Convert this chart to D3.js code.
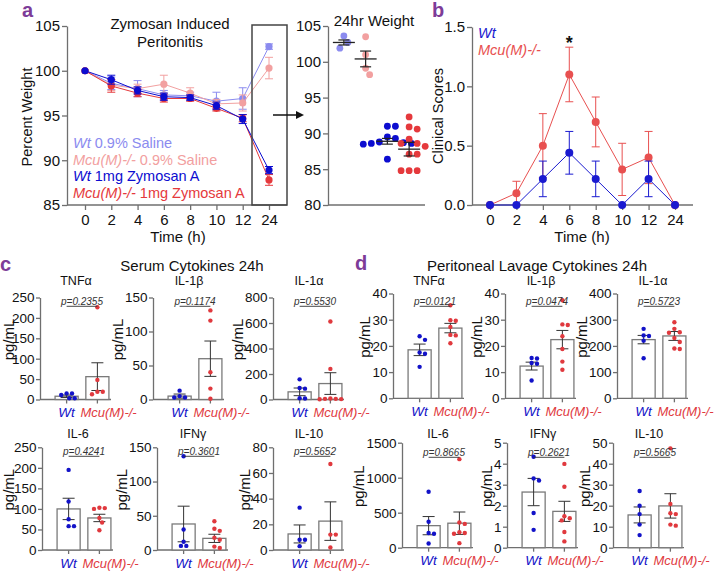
<!DOCTYPE html>
<html><head><meta charset="utf-8">
<script src="https://cdn.jsdelivr.net/npm/d3@7/dist/d3.min.js"></script>
<style>
body{margin:0;background:#fff;}
svg text{font-family:"Liberation Sans",Arial,Helvetica,sans-serif;}
</style></head><body>
<svg id="fig" width="720" height="572"></svg>
<script>
// ---------------- DATA ----------------
const timeLabels = ["0","2","4","6","8","10","12","24"];
// Panel a: percent weight over time (mean, SEM)
const wtSalineMean  = [100, 98.6, 98.0, 97.3, 97.2, 96.6, 96.9, 102.7];
const wtSalineSem   = [0, 0.7, 0.9, 0.5, 0.4, 1.0, 1.2, 0.3];
const mcuSalineMean = [100, 98.4, 98.0, 98.5, 97.5, 96.3, 96.4, 100.3];
const mcuSalineSem  = [0, 0.6, 0.5, 1.0, 0.6, 0.5, 0.9, 1.2];
const wtZymMean     = [100, 99.0, 97.8, 97.1, 97.0, 96.1, 94.6, 88.9];
const wtZymSem      = [0, 0.5, 0.4, 0.4, 0.3, 0.4, 0.5, 0.4];
const mcuZymMean    = [100, 98.3, 97.5, 96.9, 96.9, 95.8, 94.7, 87.8];
const mcuZymSem     = [0, 0.7, 0.4, 0.4, 0.3, 0.3, 0.4, 0.6];
const legendA = ["Wt| 0.9% Saline", "Mcu(M)-/-| 0.9% Saline", "Wt| 1mg Zymosan A", "Mcu(M)-/-| 1mg Zymosan A"];

// Panel a inset: 24hr weight
const weightGroups = ["Wt saline", "Mcu saline", "Wt zymosan", "Mcu zymosan"];
const wtSaline24  = [101.9, 103.6, 102.7];
const mcuSaline24 = [103.5, 101.0, 99.1, 98.2];
const wtZym24     = [91.0, 91.0, 89.5, 89.3, 88.7, 88.6, 88.6, 88.5, 88.8, 86.4];
const mcuZym24    = [92.3, 90.9, 90.6, 89.2, 88.6, 88.2, 88.6, 87.1, 87.1, 84.8, 84.8, 84.8];
const weight24Mean = [102.7, 100.4, 88.9, 87.8];
const weight24Sem  = [0.35, 1.1, 0.4, 0.95];

// Panel b: clinical scores
const wtScoreMean  = [0, 0, 0.22, 0.44, 0.22, 0, 0.22, 0];
const wtScoreSem   = [0, 0, 0.15, 0.18, 0.15, 0, 0.15, 0];
const mcuScoreMean = [0, 0.1, 0.5, 1.1, 0.7, 0.3, 0.4, 0];
const mcuScoreSem  = [0, 0.1, 0.27, 0.23, 0.21, 0.22, 0.22, 0];

// Panels c & d: cytokines
const cytokines = ["TNFα", "IL-1β", "IL-1α", "IL-6", "IFNγ", "IL-10"];
const groupLabels = ["Wt", "Mcu(M)-/-"];
const serumWt  = [[3,11,15,15,3],[13,3,3,5],[158,90,85,10,8],[195,118,75,58,58],[137,30,12,6,6],[33,8,8,3]];
const serumMcu = [[226,48,19,19,13],[131,116,40,16,1],[612,240,8,5,5,3,2],[103,102,100,78,67,48],[42,31,28,18,15,5,3],[67,12,12,2]];
const serumWtMean  = [8, 5, 60, 100, 38, 12.5];
const serumWtSem   = [3, 3, 30, 26, 26, 7];
const serumMcuMean = [56, 60, 125, 78, 17, 22.5];
const serumMcuSem  = [34, 26, 85, 9, 6, 15];
const serumP   = ["0.2355","0.1174","0.5530","0.4241","0.3601","0.5652"];
const serumMax  = [250, 150, 800, 250, 150, 80];
const serumStep = [50, 50, 200, 50, 50, 20];

const lavageWt  = [[23.7,22.3,17.5,17.0,12.0],[15.4,15.2,13.5,13.2,6.8],[265,240,238,220,153],[800,370,210,200,60],[4.33,3.3,3.2,1.65,0.85],[27,20,16,11,6]];
const lavageMcu = [[35.5,29.8,29.6,27.2,24.2,24.0,21.0],[37.4,28.2,28.0,23.7,18.8,14.0,10.9],[290,265,252,250,230,215,190,188],[1265,360,340,220,210,200,65],[3.99,2.9,1.5,1.4,1.3,0.75,0.3],[47.3,20.8,16.4,16.0,11.0,10.5]];
const lavageWtMean  = [18.5, 12.3, 224, 315, 2.65, 15.6];
const lavageWtSem   = [2.2, 1.5, 16, 130, 0.65, 3.8];
const lavageMcuMean = [26.8, 22.4, 238, 350, 1.73, 19.9];
const lavageMcuSem  = [1.8, 3.5, 17, 160, 0.48, 5.8];
const lavageP   = ["0.0121","0.0474","0.5723","0.8665","0.2621","0.5665"];
const lavageMax  = [40, 40, 400, 1500, 5, 50];
const lavageStep = [10, 10, 100, 500, 1, 10];

// ---------------- STYLE ----------------
const FONT = '"Liberation Sans", Arial, Helvetica, sans-serif';
const AX = "#6f6f6f";
const PURPLE = "#7d3c98";
const COL = {wtSal:"#8b8bef", mcuSal:"#f2a0a0", wtZym:"#0c0cd0", mcuZym:"#e5393c"};
const BLUE = "#1212c8", RED = "#e0393e";

const svg = d3.select("#fig");

function styleAxis(g, fs) {
  g.attr("font-family", FONT).attr("font-size", fs);
  g.selectAll("path.domain").attr("stroke", AX).attr("stroke-width", 1.3);
  g.selectAll(".tick line").attr("stroke", AX).attr("stroke-width", 1.3);
  g.selectAll(".tick text").attr("fill", "#111");
}
function hline(g, x1, x2, y, color, w) {
  g.append("line").attr("x1", x1).attr("x2", x2).attr("y1", y).attr("y2", y)
    .attr("stroke", color).attr("stroke-width", w || 1.3);
}
function errBar(g, x, yTop, yBot, hw, color, w) {
  g.append("line").attr("x1", x).attr("x2", x).attr("y1", yTop).attr("y2", yBot).attr("stroke", color).attr("stroke-width", w || 1);
  hline(g, x - hw, x + hw, yTop, color, w || 1);
  hline(g, x - hw, x + hw, yBot, color, w || 1);
}
function swarm(values, yScale, cx, r) {
  const d = 2 * r + 0.5;
  const pts = values.map(v => ({v, y: yScale(v), x: cx}));
  const order = pts.slice().sort((a, b) => a.y - b.y);
  const placed = [];
  for (const p of order) {
    for (let k = 0; k < 60; k++) {
      const off = k === 0 ? 0 : (k % 2 ? 1 : -1) * Math.ceil(k / 2) * d * 0.55;
      const x = cx + off;
      if (placed.every(q => Math.hypot(q.x - x, q.y - p.y) >= d)) { p.x = x; break; }
    }
    placed.push(p);
  }
  return pts;
}
function panelLabel(t, x, y) {
  svg.append("text").attr("x", x).attr("y", y).text(t)
    .attr("font-size", 20).attr("font-weight", "bold").attr("fill", PURPLE);
}
function txt(g, t, x, y, fs, anchor, opts) {
  const e = g.append("text").attr("x", x).attr("y", y).text(t).attr("font-size", fs)
    .attr("text-anchor", anchor || "middle").attr("fill", (opts && opts.fill) || "#111");
  if (opts && opts.italic) e.attr("font-style", "italic");
  return e;
}
function vtxt(g, t, x, y, fs) {
  return g.append("text").attr("transform", `translate(${x},${y}) rotate(-90)`)
    .attr("text-anchor", "middle").attr("font-size", fs).attr("fill", "#111").text(t);
}

// ---------------- PANEL A ----------------
panelLabel("a", 22, 17);
const gA = svg.append("g");
const xA = d3.scalePoint().domain(timeLabels).range([85, 269]);
const yA = d3.scaleLinear().domain([85, 105]).range([205, 26]);
const yAxA = gA.append("g").attr("transform", "translate(67,0)")
  .call(d3.axisLeft(yA).tickValues(d3.range(85, 106, 5)).tickSize(5).tickSizeOuter(0).tickPadding(2));
styleAxis(yAxA, 15);
const xAxA = gA.append("g").attr("transform", `translate(0,${yA(85)})`)
  .call(d3.axisBottom(xA).tickSize(5).tickPadding(4));
xAxA.select(".domain").remove();
styleAxis(xAxA, 15);
hline(gA, 67, 287, yA(85), AX, 1.3);

const seriesA = [
  {m: wtSalineMean, s: wtSalineSem, c: COL.wtSal},
  {m: mcuSalineMean, s: mcuSalineSem, c: COL.mcuSal},
  {m: mcuZymMean, s: mcuZymSem, c: COL.mcuZym},
  {m: wtZymMean, s: wtZymSem, c: COL.wtZym}
];
const lineA = d3.line().x((d, i) => xA(timeLabels[i])).y(d => yA(d));
seriesA.forEach(sr => {
  gA.append("path").datum(sr.m).attr("d", lineA).attr("fill", "none").attr("stroke", sr.c).attr("stroke-width", 1);
  sr.m.forEach((v, i) => { if (sr.s[i] > 0) errBar(gA, xA(timeLabels[i]), yA(v + sr.s[i]), yA(v - sr.s[i]), 4, sr.c, 1); });
  gA.selectAll(null).data(sr.m).enter().append("circle")
    .attr("cx", (d, i) => xA(timeLabels[i])).attr("cy", d => yA(d)).attr("r", 3.6).attr("fill", sr.c);
});
txt(gA, "Zymosan Induced", 170, 29, 15);
txt(gA, "Peritonitis", 170, 47, 15);
vtxt(gA, "Percent Weight", 32, 117, 14.5);
txt(gA, "Time (h)", 178, 242, 15);
const legCols = [COL.wtSal, COL.mcuSal, COL.wtZym, COL.mcuZym];
legendA.forEach((l, i) => {
  const [it, rest] = l.split("|");
  const t = gA.append("text").attr("x", 73).attr("y", 148 + i * 16.7).attr("font-size", 14.5).attr("fill", legCols[i]);
  t.append("tspan").attr("font-style", "italic").text(it);
  t.append("tspan").text(rest);
});
gA.append("rect").attr("x", 252).attr("y", 25).attr("width", 35).attr("height", 180)
  .attr("fill", "none").attr("stroke", "#444").attr("stroke-width", 1.5);
// arrow
hline(gA, 273, 297, 115, "#111", 1.5);
gA.append("path").attr("d", "M296,111 L304,115 L296,119 Z").attr("fill", "#111");

// inset scatter
const gS = svg.append("g");
const xS = d3.scalePoint().domain(weightGroups).range([333, 420]).padding(0.5);
const yS = d3.scaleLinear().domain([80, 105]).range([205, 26]);
const yAxS = gS.append("g").attr("transform", "translate(328,0)")
  .call(d3.axisLeft(yS).tickValues(d3.range(80, 106, 5)).tickSize(5).tickSizeOuter(0).tickPadding(2));
styleAxis(yAxS, 15);
hline(gS, 328, 425, yS(80), AX, 1.3);
txt(gS, "24hr Weight", 374, 26, 15);
const sData = [wtSaline24, mcuSaline24, wtZym24, mcuZym24];
const sCols = [COL.wtSal, COL.mcuSal, COL.wtZym, COL.mcuZym];
sData.forEach((vals, gi) => {
  const cx = xS(weightGroups[gi]);
  const pts = swarm(vals, yS, cx, 3.4);
  gS.selectAll(null).data(pts).enter().append("circle")
    .attr("cx", d => d.x).attr("cy", d => d.y).attr("r", 3.4).attr("fill", sCols[gi]);
});
sData.forEach((vals, gi) => {
  const cx = xS(weightGroups[gi]);
  hline(gS, cx - 11, cx + 11, yS(weight24Mean[gi]), "#222", 1.3);
  errBar(gS, cx, yS(weight24Mean[gi] + weight24Sem[gi]), yS(weight24Mean[gi] - weight24Sem[gi]), 5.5, "#222", 1.2);
});

// ---------------- PANEL B ----------------
panelLabel("b", 432, 17);
const gB = svg.append("g");
const xB = d3.scalePoint().domain(timeLabels).range([490, 675]);
const yB = d3.scaleLinear().domain([0, 1.5]).range([205, 27]);
const yAxB = gB.append("g").attr("transform", "translate(472,0)")
  .call(d3.axisLeft(yB).tickValues([0, 0.5, 1.0, 1.5]).tickFormat(d3.format(".1f")).tickSize(5).tickSizeOuter(0).tickPadding(2));
styleAxis(yAxB, 15);
const xAxB = gB.append("g").attr("transform", `translate(0,${yB(0)})`)
  .call(d3.axisBottom(xB).tickSize(5).tickPadding(4));
xAxB.select(".domain").remove();
styleAxis(xAxB, 15);
hline(gB, 472, 693, yB(0), AX, 1.3);
const seriesB = [
  {m: mcuScoreMean, s: mcuScoreSem, c: "#e85050"},
  {m: wtScoreMean, s: wtScoreSem, c: "#1a1ad0"}
];
const lineB = d3.line().x((d, i) => xB(timeLabels[i])).y(d => yB(d));
seriesB.forEach(sr => {
  sr.m.forEach((v, i) => { if (sr.s[i] > 0) errBar(gB, xB(timeLabels[i]), yB(v + sr.s[i]), yB(Math.max(0, v - sr.s[i])), 4, sr.c, 1); });
  gB.append("path").datum(sr.m).attr("d", lineB).attr("fill", "none").attr("stroke", sr.c).attr("stroke-width", 1);
  gB.selectAll(null).data(sr.m).enter().append("circle")
    .attr("cx", (d, i) => xB(timeLabels[i])).attr("cy", d => yB(d)).attr("r", 4).attr("fill", sr.c);
});
txt(gB, "*", xB("6"), 49, 18, "middle", {fill: "#111"}).attr("font-weight", "bold");
txt(gB, "Wt", 478, 38, 14.5, "start", {italic: true, fill: "#1a1ad0"});
txt(gB, "Mcu(M)-/-", 478, 55, 14.5, "start", {italic: true, fill: "#e85050"});
vtxt(gB, "Clinical Scores", 443, 116, 14.5);
txt(gB, "Time (h)", 582, 242, 15);

// ---------------- PANELS C & D ----------------
function barPanel(o) {
  const g = svg.append("g");
  const y = d3.scaleLinear().domain([0, o.max]).range([o.y0, o.y1]);
  const x = d3.scaleBand().domain(groupLabels).range([o.ax + 12, o.ax + 72]).paddingInner(0.25).paddingOuter(0.1);
  const bw = x.bandwidth();
  const cxW = x("Wt") + bw / 2, cxM = x("Mcu(M)-/-") + bw / 2;
  const ya = g.append("g").attr("transform", `translate(${o.ax},0)`)
    .call(d3.axisLeft(y).tickValues(d3.range(0, o.max + o.step / 2, o.step)).tickFormat(d3.format("~g")).tickSize(4).tickSizeOuter(0).tickPadding(1.5));
  styleAxis(ya, 13.5);
  const xa = g.append("g").attr("transform", `translate(0,${o.y0})`)
    .call(d3.axisBottom(x).tickSize(4).tickSizeOuter(0).tickFormat(""));
  xa.select(".domain").remove();
  styleAxis(xa, 13);
  hline(g, o.ax, o.ax + 71, o.y0, AX, 1.3);
  const groups = [
    {k: "Wt", m: o.wtMean, s: o.wtSem, vals: o.wt, c: BLUE, cx: cxW},
    {k: "Mcu(M)-/-", m: o.mcuMean, s: o.mcuSem, vals: o.mcu, c: RED, cx: cxM}
  ];
  g.selectAll("rect.bar").data(groups).enter().append("rect")
    .attr("x", d => x(d.k)).attr("width", bw)
    .attr("y", d => y(d.m)).attr("height", d => o.y0 - y(d.m))
    .attr("fill", "#fff").attr("stroke", "#7a7a7a").attr("stroke-width", 1.3);
  groups.forEach(gr => errBar(g, gr.cx, y(gr.m + gr.s), y(Math.max(0, gr.m - gr.s)), 6, "#333", 1));
  groups.forEach(gr => {
    const pts = swarm(gr.vals, y, gr.cx, 2.2);
    g.selectAll(null).data(pts).enter().append("circle")
      .attr("cx", d => d.x).attr("cy", d => d.y).attr("r", 2.2).attr("fill", gr.c);
  });
  // p value
  txt(g, "p=" + o.p, (cxW + cxM) / 2, o.pY, 10, "middle", {italic: true, fill: "#333"});
  hline(g, cxW, cxM, o.pY + 1.8, "#333", 0.9);
  // title
  txt(g, o.title, o.ax + 36, o.titleY, 12.5);
  // group labels
  txt(g, "Wt", cxW, o.y0 + 17.5, 13.5, "middle", {italic: true, fill: BLUE});
  txt(g, "Mcu(M)-/-", cxM - 17, o.y0 + 17.5, 13, "start", {italic: true, fill: RED});
  // y label
  const bb = ya.node().getBBox();
  vtxt(g, "pg/mL", Math.max(13.5, o.ax + bb.x - 2), (o.y0 + o.y1) / 2 - 9, 15);
}

const rowsC = [
  {y0: 399.5, y1: 297.5, axes: [40, 153, 273], titleY: 285, pY: 304.5},
  {y0: 550, y1: 447.3, axes: [42, 157, 273], titleY: 438, pY: 454.5}
];
const rowsD = [
  {y0: 398.3, y1: 293.5, axes: [393, 505, 617], titleY: 285, pY: 304.5},
  {y0: 547.7, y1: 442.7, axes: [402, 507, 613], titleY: 437.5, pY: 455.5}
];
cytokines.forEach((ck, i) => {
  const r = Math.floor(i / 3), c = i % 3;
  barPanel({ax: rowsC[r].axes[c], y0: rowsC[r].y0, y1: rowsC[r].y1, titleY: rowsC[r].titleY, pY: rowsC[r].pY,
    max: serumMax[i], step: serumStep[i], title: ck, p: serumP[i],
    wt: serumWt[i], mcu: serumMcu[i], wtMean: serumWtMean[i], wtSem: serumWtSem[i], mcuMean: serumMcuMean[i], mcuSem: serumMcuSem[i]});
  barPanel({ax: rowsD[r].axes[c], y0: rowsD[r].y0, y1: rowsD[r].y1, titleY: rowsD[r].titleY, pY: rowsD[r].pY,
    max: lavageMax[i], step: lavageStep[i], title: ck, p: lavageP[i],
    wt: lavageWt[i], mcu: lavageMcu[i], wtMean: lavageWtMean[i], wtSem: lavageWtSem[i], mcuMean: lavageMcuMean[i], mcuSem: lavageMcuSem[i]});
});
panelLabel("c", 0, 270.5);
panelLabel("d", 355, 270);
txt(svg, "Serum Cytokines 24h", 192, 271, 15);
txt(svg, "Peritoneal Lavage Cytokines 24h", 537, 271, 15);
</script>
</body></html>
